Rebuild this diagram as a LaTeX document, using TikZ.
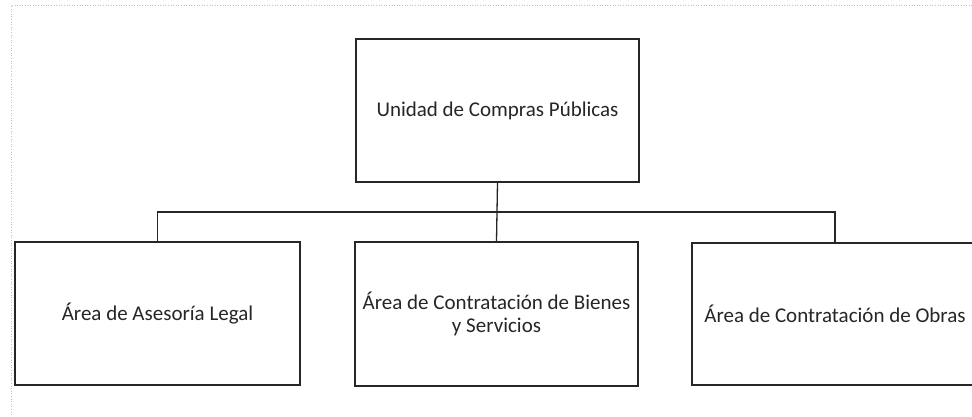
\documentclass[tikz,border=0pt]{standalone}
\usepackage{fontspec}
\setmainfont{Carlito}
\begin{document}
\begin{tikzpicture}[x=1pt,y=-1pt,
  orgbox/.style={draw=black!85,line width=1.4pt,inner sep=0pt,font=\fontsize{21}{23}\selectfont,text=black!85,align=center},
  link/.style={draw=black!85,line width=1.3pt},
  frameline/.style={draw=black!25,line width=0.6pt,dotted}]
\useasboundingbox (0,0) rectangle (972,417);
\fill[white] (0,0) rectangle (972,417);
\draw[frameline] (972,5) -- (11,5) -- (11,417);
\node[orgbox,minimum width=283pt,minimum height=143pt] (top) at (497.5,110.5) {Unidad de Compras Públicas};
\node[orgbox,minimum width=285pt,minimum height=143pt] (legal) at (157.5,313.5) {Área de Asesoría Legal};
\node[orgbox,minimum width=283pt,minimum height=144pt] (bienes) at (496.5,314) {Área de Contratación de Bienes\\y Servicios};
\node[orgbox,minimum width=286pt,minimum height=142pt] (obras) at (835,314) {Área de Contratación de Obras};
\coordinate (bar) at (0,212);
\draw[link] (top.south) -- (bienes.north);
\draw[link] (legal.north) |- (bar -| bienes.north) -| (obras.north);
\end{tikzpicture}
\end{document}
